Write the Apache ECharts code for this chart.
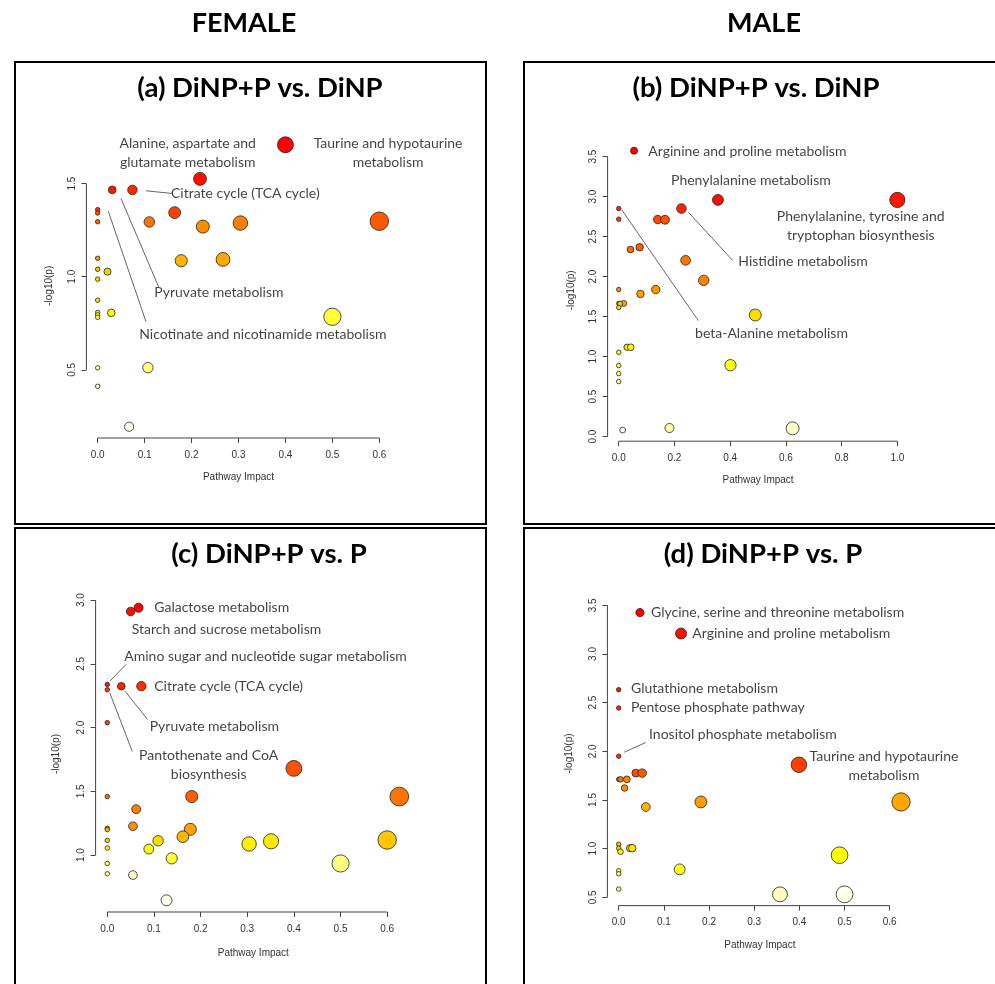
<!DOCTYPE html>
<html>
<head>
<meta charset="utf-8">
<title>Pathway impact bubble plots</title>
<script src="https://cdn.jsdelivr.net/npm/echarts@6/dist/echarts.min.js"></script>
<style>
  html, body { margin: 0; padding: 0; background: #fff; }
  #chart { width: 995px; height: 984px; }
</style>
</head>
<body>
<div id="chart"></div>
<script>
// ---- Pathway analysis results: impact (x) and -log10(p) (y) ----

// (a) Female, DiNP+P vs. DiNP
const femaleVsDinpImpact = [0.400, 0.218, 0.031, 0.074, 0.164, 0.110, 0.224, 0.304, 0.600, 0.178,
  0.267, 0.500, 0.107, 0.067, 0.021, 0.029, 0, 0, 0, 0, 0, 0, 0, 0, 0, 0, 0, 0];
const femaleVsDinpLogP = [1.708, 1.525, 1.466, 1.466, 1.344, 1.294, 1.269, 1.288, 1.298, 1.086,
  1.093, 0.785, 0.512, 0.195, 1.027, 0.806, 1.360, 1.342, 1.295, 1.099, 1.040, 0.987, 0.874,
  0.808, 0.795, 0.782, 0.511, 0.412];

// (b) Male, DiNP+P vs. DiNP
const maleVsDinpImpact = [0.055, 0.356, 1.000, 0.225, 0, 0, 0.140, 0.166, 0.042, 0.075,
  0.240, 0.305, 0, 0.133, 0.078, 0, 0.005, 0.018, 0, 0.030, 0.043, 0, 0, 0, 0, 0.401,
  0.490, 0.014, 0.182, 0.624];
const maleVsDinpLogP = [3.573, 2.958, 2.957, 2.850, 2.850, 2.717, 2.713, 2.710, 2.338, 2.367,
  2.203, 1.953, 1.838, 1.838, 1.783, 1.663, 1.660, 1.665, 1.613, 1.117, 1.117, 1.054, 0.888,
  0.788, 0.688, 0.893, 1.520, 0.083, 0.108, 0.104];

// (c) Female, DiNP+P vs. P
const femaleVsPImpact = [0.050, 0.067, 0, 0, 0.030, 0.073, 0, 0.181, 0, 0.062, 0.055, 0, 0,
  0.178, 0.162, 0.109, 0, 0.089, 0, 0.138, 0, 0, 0.055, 0.127, 0.400, 0.626, 0.600, 0.351,
  0.304, 0.500];
const femaleVsPLogP = [2.911, 2.940, 2.339, 2.297, 2.325, 2.325, 2.039, 1.459, 1.459, 1.360,
  1.226, 1.210, 1.200, 1.202, 1.144, 1.112, 1.115, 1.047, 1.055, 0.974, 0.934, 0.853, 0.843,
  0.645, 1.680, 1.459, 1.118, 1.108, 1.087, 0.934];

// (d) Male, DiNP+P vs. P
const maleVsPImpact = [0.047, 0.138, 0, 0, 0, 0, 0.004, 0.018, 0.013, 0.038, 0.052, 0.060,
  0.182, 0.399, 0.625, 0, 0, 0.004, 0.025, 0.030, 0, 0, 0, 0.135, 0.489, 0.357, 0.500];
const maleVsPLogP = [3.425, 3.210, 2.633, 2.445, 1.950, 1.712, 1.712, 1.712, 1.623, 1.776,
  1.776, 1.428, 1.480, 1.862, 1.480, 1.046, 1.005, 0.968, 1.005, 1.005, 0.773, 0.742, 0.585,
  0.787, 0.933, 0.531, 0.531];

// Tick labels
const impactTicks = [0, 0.1, 0.2, 0.3, 0.4, 0.5, 0.6];
const impactTicksWide = [0, 0.2, 0.4, 0.6, 0.8, 1.0];
const logPTicksA = [0.5, 1.0, 1.5];
const logPTicksB = [0, 0.5, 1.0, 1.5, 2.0, 2.5, 3.0, 3.5];
const logPTicksC = [1.0, 1.5, 2.0, 2.5, 3.0];
const logPTicksD = [0.5, 1.0, 1.5, 2.0, 2.5, 3.0, 3.5];

// Text
const groupHeaders = ['FEMALE', 'MALE'];
const panelTitles = ['(a) DiNP+P vs. DiNP', '(b) DiNP+P vs. DiNP', '(c) DiNP+P vs. P', '(d) DiNP+P vs. P'];
const xAxisTitle = 'Pathway Impact';
const yAxisTitle = '-log10(p)';

// ---- Layout ----
const labelFont = 'Lato, "Open Sans", sans-serif';
const axisFont = '"Liberation Sans", Arial, sans-serif';

// Pathway name annotations, anchored in each panel's data space
const panelDefs = [
  {
    impact: femaleVsDinpImpact, logP: femaleVsDinpLogP, xTicks: impactTicks, yTicks: logPTicksA,
    box: { x: 15, y: 62, w: 471, h: 462 }, titleAt: [260, 88],
    grid: { left: 86.4, top: 133.5, width: 304.2, height: 304.5 }, yNameGap: 32, xNameGap: 34,
    notes: [
      { text: 'Alanine, aspartate and\nglutamate metabolism', at: [0.1918, 1.665], align: 'center' },
      { text: 'Taurine and hypotaurine\nmetabolism', at: [0.6186, 1.665], align: 'center' },
      { text: 'Citrate cycle (TCA cycle)', at: [0.1562, 1.447], align: 'left' },
      { text: 'Pyruvate metabolism', at: [0.1206, 0.914], align: 'left' },
      { text: 'Nicotinate and nicotinamide metabolism', at: [0.0886, 0.691], align: 'left' }
    ],
    leaders: [
      [[0.1029, 1.461], [0.1577, 1.447]],
      [[0.0496, 1.4206], [0.1306, 0.941]],
      [[0.0226, 1.352], [0.1029, 0.759]]
    ]
  },
  {
    impact: maleVsDinpImpact, logP: maleVsDinpLogP, xTicks: impactTicksWide, yTicks: logPTicksB,
    box: { x: 524, y: 62, w: 480, h: 462 }, titleAt: [756, 88],
    grid: { left: 607.6, top: 139.5, width: 300.9, height: 301.7 }, yNameGap: 31, xNameGap: 34,
    notes: [
      { text: 'Arginine and proline metabolism', at: [0.1062, 3.5625], align: 'left' },
      { text: 'Phenylalanine metabolism', at: [0.1877, 3.196], align: 'left' },
      { text: 'Phenylalanine, tyrosine and\ntryptophan biosynthesis', at: [0.8686, 2.631], align: 'center' },
      { text: 'Histidine metabolism', at: [0.4293, 2.1875], align: 'left' },
      { text: 'beta-Alanine metabolism', at: [0.2739, 1.2925], align: 'left' }
    ],
    leaders: [
      [[0.2498, 2.805], [0.4092, 2.2]],
      [[0.0108, 2.834], [0.2857, 1.45]]
    ]
  },
  {
    impact: femaleVsPImpact, logP: femaleVsPLogP, xTicks: impactTicks, yTicks: logPTicksC,
    box: { x: 15, y: 528, w: 471, h: 470 }, titleAt: [269, 554],
    grid: { left: 95.6, top: 596.1, width: 315.4, height: 315.9 }, yNameGap: 34, xNameGap: 36,
    notes: [
      { text: 'Galactose metabolism', at: [0.1007, 2.943], align: 'left' },
      { text: 'Starch and sucrose metabolism', at: [0.0523, 2.769], align: 'left' },
      { text: 'Amino sugar and nucleotide sugar metabolism', at: [0.0364, 2.559], align: 'left' },
      { text: 'Citrate cycle (TCA cycle)', at: [0.1007, 2.320], align: 'left' },
      { text: 'Pyruvate metabolism', at: [0.0909, 2.008], align: 'left' },
      { text: 'Pantothenate and CoA\nbiosynthesis', at: [0.2173, 1.703], align: 'center' }
    ],
    leaders: [
      [[0.0058, 2.365], [0.0401, 2.496]],
      [[0.0379, 2.286], [0.0866, 2.063]],
      [[0.0058, 2.268], [0.0536, 1.813]]
    ]
  },
  {
    impact: maleVsPImpact, logP: maleVsPLogP, xTicks: impactTicks, yTicks: logPTicksD,
    box: { x: 524, y: 528, w: 480, h: 470 }, titleAt: [763, 554],
    grid: { left: 607.4, top: 601.3, width: 304.9, height: 304.3 }, yNameGap: 33, xNameGap: 35,
    notes: [
      { text: 'Glycine, serine and threonine metabolism', at: [0.0715, 3.424], align: 'left' },
      { text: 'Arginine and proline metabolism', at: [0.1629, 3.209], align: 'left' },
      { text: 'Glutathione metabolism', at: [0.0272, 2.646], align: 'left' },
      { text: 'Pentose phosphate pathway', at: [0.0272, 2.445], align: 'left' },
      { text: 'Inositol phosphate metabolism', at: [0.0671, 2.172], align: 'left' },
      { text: 'Taurine and hypotaurine\nmetabolism', at: [0.5873, 1.846], align: 'center' }
    ],
    leaders: [
      [[0.0124, 1.991], [0.0598, 2.090]]
    ]
  }
];

// R's heat.colors(n): red -> yellow, then fading toward white
function hsvToHex(h, s, v) {
  const i = Math.floor(h * 6), f = h * 6 - i;
  const p = v * (1 - s), q = v * (1 - f * s), t = v * (1 - (1 - f) * s);
  let r, g, b;
  switch (i % 6) {
    case 0: r = v; g = t; b = p; break;
    case 1: r = q; g = v; b = p; break;
    case 2: r = p; g = v; b = t; break;
    case 3: r = p; g = q; b = v; break;
    case 4: r = t; g = p; b = v; break;
    default: r = v; g = p; b = q;
  }
  const hx = c => Math.round(c * 255).toString(16).padStart(2, '0');
  return '#' + hx(r) + hx(g) + hx(b);
}
function heatColors(n) {
  const j = Math.floor(n / 4), i = n - j;
  const out = [];
  for (let k = 0; k < i; k++) out.push(hsvToHex(i > 1 ? (k / (i - 1)) / 6 : 0, 1, 1));
  const s0 = 1 - 1 / (2 * j), s1 = 1 / (2 * j);
  for (let k = 0; k < j; k++) out.push(hsvToHex(1 / 6, j > 1 ? s0 + (s1 - s0) * k / (j - 1) : s0, 1));
  return out;
}

// Plot range padded by 4% on each side, as in base R graphics
function paddedRange(values) {
  const lo = Math.min(...values), hi = Math.max(...values);
  const pad = (hi - lo) * 0.04;
  return [lo - pad, hi + pad];
}

const grids = [], xAxes = [], yAxes = [], series = [], graphics = [];
const tickFmt = v => Number(v).toFixed(1);
const axisColor = '#444';
const axisTextColor = '#333';

panelDefs.forEach((p, idx) => {
  const [xMin, xMax] = paddedRange(p.impact);
  const [yMin, yMax] = paddedRange(p.logP);
  const pxPerUnit = p.grid.width / (xMax - xMin);

  grids.push(Object.assign({ containLabel: false }, p.grid));

  xAxes.push({
    gridIndex: idx, type: 'value', min: xMin, max: xMax, position: 'bottom',
    axisLine: { show: false, onZero: false }, splitLine: { show: false },
    axisTick: { show: true, length: 5, customValues: p.xTicks, lineStyle: { color: axisColor, width: 1 } },
    axisLabel: { customValues: p.xTicks, formatter: tickFmt, margin: 12, fontSize: 10,
      fontFamily: axisFont, color: axisTextColor },
    name: xAxisTitle, nameLocation: 'middle', nameGap: p.xNameGap,
    nameTextStyle: { fontSize: 10, fontFamily: axisFont, color: axisTextColor }
  });
  yAxes.push({
    gridIndex: idx, type: 'value', min: yMin, max: yMax, position: 'left',
    axisLine: { show: false, onZero: false }, splitLine: { show: false },
    axisTick: { show: true, length: 5, customValues: p.yTicks, lineStyle: { color: axisColor, width: 1 } },
    axisLabel: { customValues: p.yTicks, formatter: tickFmt, rotate: 90, margin: 9, fontSize: 10,
      fontFamily: axisFont, color: axisTextColor },
    name: yAxisTitle, nameLocation: 'middle', nameGap: p.yNameGap,
    nameTextStyle: { fontSize: 10, fontFamily: axisFont, color: axisTextColor }
  });

  // Axis spines spanning the first to last tick
  const xt = p.xTicks, yt = p.yTicks;
  series.push({
    type: 'line', xAxisIndex: idx, yAxisIndex: idx, silent: true, clip: false, symbol: 'none',
    lineStyle: { color: axisColor, width: 1 }, z: 1,
    data: [[xt[0], yMin], [xt[xt.length - 1], yMin]]
  });
  series.push({
    type: 'line', xAxisIndex: idx, yAxisIndex: idx, silent: true, clip: false, symbol: 'none',
    lineStyle: { color: axisColor, width: 1 }, z: 1,
    data: [[xMin, yt[0]], [xMin, yt[yt.length - 1]]]
  });

  // Bubbles: drawn from most to least significant, coloured by rank of -log10(p),
  // sized by the square root of pathway impact
  const pts = p.impact.map((x, i) => [x, p.logP[i]]).sort((a, b) => b[1] - a[1]);
  const cols = heatColors(pts.length);
  series.push({
    type: 'scatter', xAxisIndex: idx, yAxisIndex: idx, clip: false, z: 3,
    symbol: 'circle',
    symbolSize: v => 4.5 + 0.0385 * Math.sqrt(v[0]) * pxPerUnit,
    itemStyle: { borderColor: '#222', borderWidth: 0.8, opacity: 1 },
    data: pts.map((pt, k) => ({ value: pt, itemStyle: { color: cols[k] } }))
  });

  // Pathway names and leader lines
  series.push({
    type: 'scatter', xAxisIndex: idx, yAxisIndex: idx, clip: false, silent: true, z: 4,
    symbol: 'circle', symbolSize: 1, itemStyle: { color: 'transparent' },
    data: p.notes.map(n => ({
      value: n.at,
      label: {
        show: true, position: 'inside', formatter: n.text, align: n.align, verticalAlign: 'middle',
        fontFamily: labelFont, fontSize: 14, lineHeight: 19, color: '#111'
      }
    })),
    markLine: {
      silent: true, symbol: ['none', 'none'], animation: false,
      label: { show: false },
      lineStyle: { color: '#666', width: 1, type: 'solid' },
      emphasis: { disabled: true },
      data: p.leaders.map(seg => [{ coord: seg[0] }, { coord: seg[1] }])
    }
  });

  // Panel frame and title
  graphics.push({
    type: 'rect', shape: { x: p.box.x, y: p.box.y, width: p.box.w, height: p.box.h },
    style: { fill: 'none', stroke: '#000', lineWidth: 2 }, silent: true
  });
  graphics.push({
    type: 'text', x: p.titleAt[0], y: p.titleAt[1], silent: true,
    style: { text: panelTitles[idx], fontFamily: labelFont, fontWeight: 'bold', fontSize: 27.5,
      fill: '#000', textAlign: 'center', textVerticalAlign: 'middle' }
  });
});

graphics.push({
  type: 'text', x: 244, y: 23, silent: true,
  style: { text: groupHeaders[0], fontFamily: labelFont, fontWeight: 'bold', fontSize: 27,
    fill: '#000', textAlign: 'center', textVerticalAlign: 'middle' }
});
graphics.push({
  type: 'text', x: 764, y: 23, silent: true,
  style: { text: groupHeaders[1], fontFamily: labelFont, fontWeight: 'bold', fontSize: 27,
    fill: '#000', textAlign: 'center', textVerticalAlign: 'middle' }
});

const chart = echarts.init(document.getElementById('chart'), null, { renderer: 'canvas' });
chart.setOption({
  animation: false,
  backgroundColor: '#fff',
  grid: grids,
  xAxis: xAxes,
  yAxis: yAxes,
  series: series,
  graphic: graphics
});
</script>
</body>
</html>
